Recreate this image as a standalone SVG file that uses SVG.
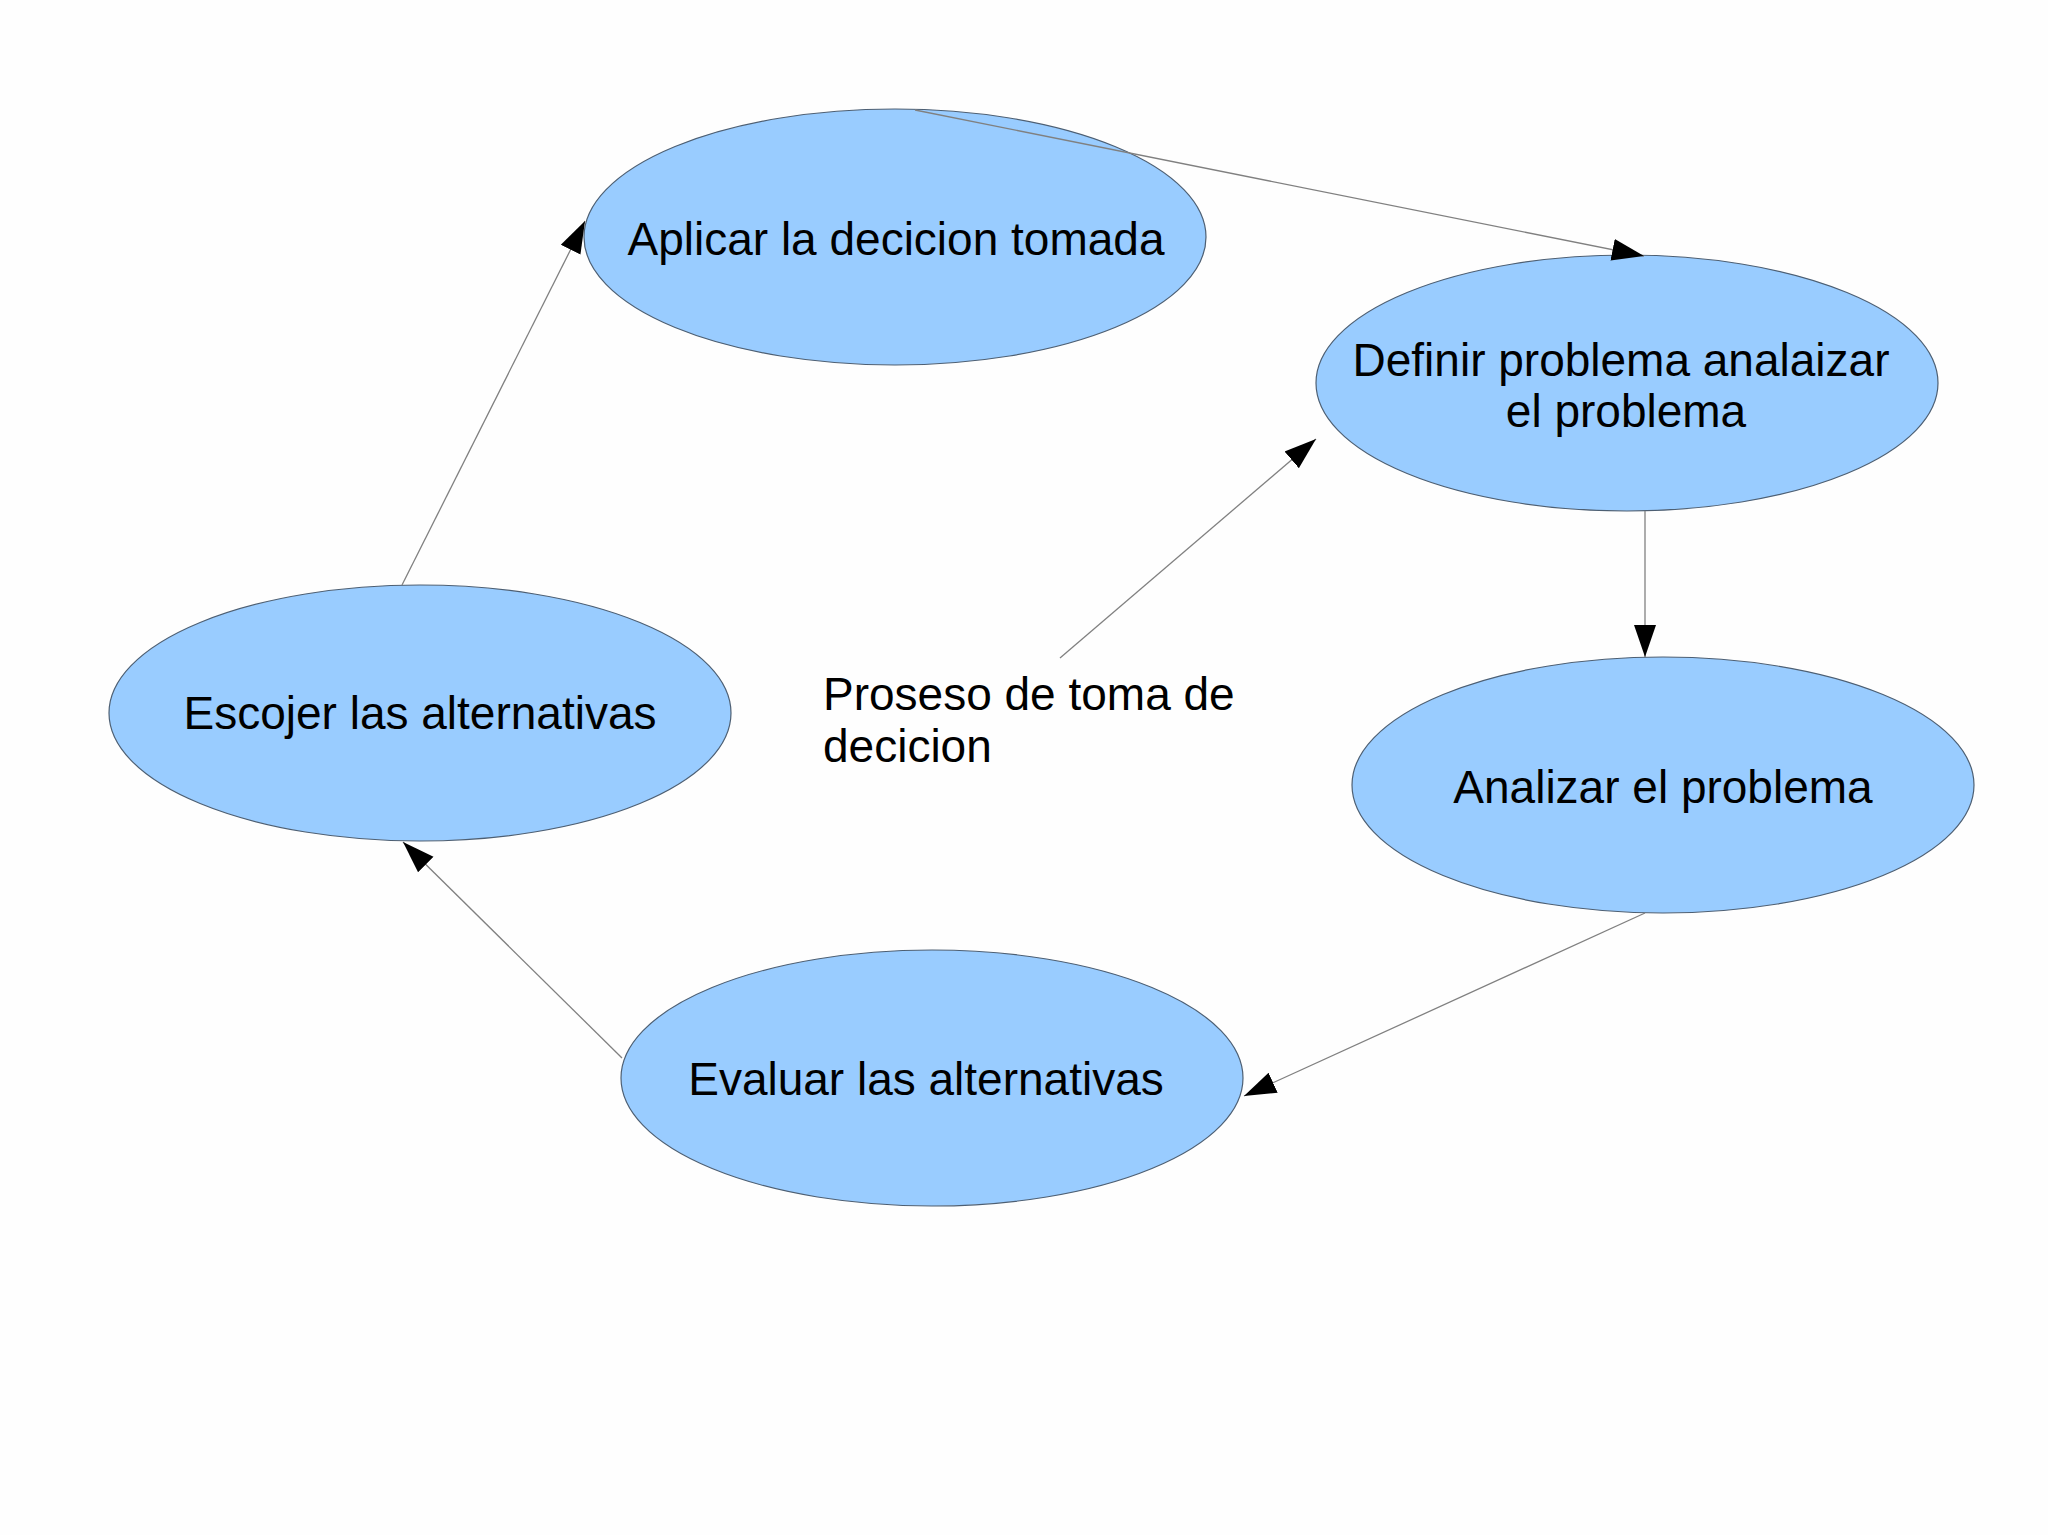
<svg xmlns="http://www.w3.org/2000/svg" width="2048" height="1535" viewBox="0 0 2048 1535">
<style>
.node{fill:#99ccff;stroke:#4d5f73;stroke-width:1.2}
.lbl{font-family:"Liberation Sans",Arial,sans-serif;font-size:46px;fill:#000;text-anchor:middle}
.free{font-family:"Liberation Sans",Arial,sans-serif;font-size:46px;fill:#000}
.conn{stroke:#808080;stroke-width:1.3;fill:none;marker-end:url(#arr)}
</style>
<defs>
<marker id="arr" markerUnits="userSpaceOnUse" markerWidth="32" markerHeight="24" refX="32" refY="12" orient="auto">
<path d="M0,1 L32,12 L0,23 Z" fill="#000"/>
</marker>
</defs>
<rect width="2048" height="1535" fill="#fefefe"/>
<g id="node-aplicar">
<ellipse class="node" cx="895" cy="237" rx="311" ry="128"/>
<text class="lbl" x="896" y="255">Aplicar la decicion tomada</text>
</g>
<g id="node-definir">
<ellipse class="node" cx="1627" cy="383" rx="311" ry="128"/>
<text class="lbl" x="1621" y="376">Definir problema analaizar</text>
<text class="lbl" x="1626" y="427">el problema</text>
</g>
<g id="node-analizar">
<ellipse class="node" cx="1663" cy="785" rx="311" ry="128"/>
<text class="lbl" x="1663" y="803">Analizar el problema</text>
</g>
<g id="node-evaluar">
<ellipse class="node" cx="932" cy="1078" rx="311" ry="128"/>
<text class="lbl" x="926" y="1095">Evaluar las alternativas</text>
</g>
<g id="node-escojer">
<ellipse class="node" cx="420" cy="713" rx="311" ry="128"/>
<text class="lbl" x="420" y="729">Escojer las alternativas</text>
</g>
<g id="node-proseso">
<text class="free" x="823" y="710">Proseso de toma de</text>
<text class="free" x="823" y="762">decicion</text>
</g>
<g id="connectors">
<line class="conn" x1="915" y1="110" x2="1644" y2="256"/>
<line class="conn" x1="1645" y1="511" x2="1645" y2="657"/>
<line class="conn" x1="1645" y1="913" x2="1244" y2="1096"/>
<line class="conn" x1="622" y1="1058" x2="403" y2="842"/>
<line class="conn" x1="402" y1="585" x2="585" y2="221"/>
<line class="conn" x1="1060" y1="658" x2="1316" y2="439"/>
</g>
</svg>
